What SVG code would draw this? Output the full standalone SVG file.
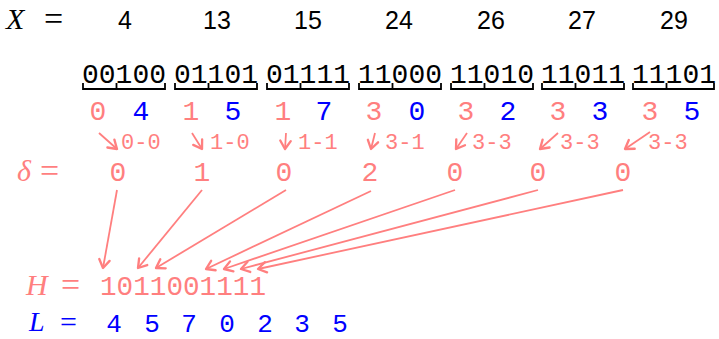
<svg xmlns="http://www.w3.org/2000/svg" width="719" height="339" viewBox="0 0 719 339">
<defs>
<marker id="ah" markerUnits="userSpaceOnUse" markerWidth="14" markerHeight="14" refX="10" refY="6" orient="auto" viewBox="0 0 12 12">
<path d="M3,1.5 L10,6 L3,10.5" fill="none" stroke="#ff7f7f" stroke-width="2" stroke-linecap="round" stroke-linejoin="round"/>
</marker>
</defs>
<style>
.math{font-family:"Liberation Serif","DejaVu Serif",serif;font-style:italic;font-size:30px}
.eq{font-family:"Liberation Serif","DejaVu Serif",serif;font-size:34px}
.num{font-family:"Liberation Sans","DejaVu Sans",sans-serif;font-size:25px;fill:#000;text-anchor:middle}
.bin{font-family:"Liberation Mono","DejaVu Sans Mono",monospace;font-size:28px;fill:#000}
.tt{font-family:"Liberation Mono","DejaVu Sans Mono",monospace;font-size:28px;text-anchor:middle}
.lt{font-family:"Liberation Mono","DejaVu Sans Mono",monospace;font-size:26px;text-anchor:middle}
.lab{font-family:"Liberation Mono","DejaVu Sans Mono",monospace;font-size:22px;fill:#ff7f7f}
.red{fill:#ff7f7f}
.blue{fill:#0000ff}
.brace{fill:none;stroke:#000;stroke-width:1.8}
.conn{fill:none;stroke:#ff7f7f;stroke-width:1.8;marker-end:url(#ah)}
</style>
<g id="xrow">
<text class="math" x="6" y="29">X</text><text class="eq" x="44" y="30">=</text>
<text class="num" x="125" y="29">4</text>
<text class="num" x="217" y="29">13</text>
<text class="num" x="308" y="29">15</text>
<text class="num" x="399" y="29">24</text>
<text class="num" x="491" y="29">26</text>
<text class="num" x="582" y="29">27</text>
<text class="num" x="674" y="29">29</text>
</g>
<g id="bins">
<text class="bin" x="82" y="83">00100</text>
<text class="bin" x="174" y="83">01101</text>
<text class="bin" x="266" y="83">01111</text>
<text class="bin" x="358" y="83">11000</text>
<text class="bin" x="450" y="83">11010</text>
<text class="bin" x="541" y="83">11011</text>
<text class="bin" x="632" y="83">11101</text>
<path class="brace" d="M83,83 V89 H165 V83 M116.5,89 V83"/>
<path class="brace" d="M175,83 V89 H257 V83 M208.5,89 V83"/>
<path class="brace" d="M267,83 V89 H349 V83 M300.5,89 V83"/>
<path class="brace" d="M359,83 V89 H441 V83 M392.5,89 V83"/>
<path class="brace" d="M451,83 V89 H533 V83 M484.5,89 V83"/>
<path class="brace" d="M542,83 V89 H624 V83 M575.5,89 V83"/>
<path class="brace" d="M633,83 V89 H714 V83 M666.5,89 V83"/>
</g>
<g id="split">
<text class="tt red" x="98" y="120">0</text><text class="tt blue" x="141" y="120">4</text>
<text class="tt red" x="191" y="120">1</text><text class="tt blue" x="233" y="120">5</text>
<text class="tt red" x="283" y="120">1</text><text class="tt blue" x="324" y="120">7</text>
<text class="tt red" x="374" y="120">3</text><text class="tt blue" x="417" y="120">0</text>
<text class="tt red" x="466" y="120">3</text><text class="tt blue" x="508" y="120">2</text>
<text class="tt red" x="558" y="120">3</text><text class="tt blue" x="600" y="120">3</text>
<text class="tt red" x="650" y="120">3</text><text class="tt blue" x="692" y="120">5</text>
</g>
<g id="diffs">
<text class="lab" x="121" y="149">0-0</text>
<text class="lab" x="210" y="149">1-0</text>
<text class="lab" x="298" y="149">1-1</text>
<text class="lab" x="385" y="149">3-1</text>
<text class="lab" x="472" y="149">3-3</text>
<text class="lab" x="560" y="149">3-3</text>
<text class="lab" x="648" y="149">3-3</text>
</g>
<g id="delta">
<text class="math red" x="17" y="181">δ</text><text class="eq red" x="40" y="182">=</text>
<text class="tt red" x="118" y="181">0</text>
<text class="tt red" x="202" y="181">1</text>
<text class="tt red" x="284" y="181">0</text>
<text class="tt red" x="370" y="181">2</text>
<text class="tt red" x="455" y="181">0</text>
<text class="tt red" x="538" y="181">0</text>
<text class="tt red" x="623" y="181">0</text>
</g>
<g id="hrow">
<text class="math red" x="26" y="295">H</text><text class="eq red" x="61" y="296">=</text>
<text class="bin red" x="100" y="295" textLength="166" lengthAdjust="spacingAndGlyphs">1011001111</text>
</g>
<g id="lrow">
<text class="math blue" x="29" y="331" style="font-size:28px">L</text><text class="eq blue" x="60" y="332" style="font-size:30px">=</text>
<text class="lt blue" x="114" y="332">4</text>
<text class="lt blue" x="152" y="332">5</text>
<text class="lt blue" x="189" y="332">7</text>
<text class="lt blue" x="227" y="332">0</text>
<text class="lt blue" x="265" y="332">2</text>
<text class="lt blue" x="302" y="332">3</text>
<text class="lt blue" x="340" y="332">5</text>
</g>
<g id="connectors">
<line class="conn" x1="99" y1="133" x2="117" y2="149"/>
<line class="conn" x1="192" y1="133" x2="202" y2="149"/>
<line class="conn" x1="286" y1="133" x2="285" y2="149"/>
<line class="conn" x1="375" y1="133" x2="371" y2="149"/>
<line class="conn" x1="467" y1="133" x2="456" y2="149"/>
<line class="conn" x1="558" y1="133" x2="540" y2="149"/>
<line class="conn" x1="650" y1="132" x2="625" y2="149"/>
<line class="conn" x1="117" y1="190" x2="103" y2="268"/>
<line class="conn" x1="202" y1="190" x2="138" y2="268"/>
<line class="conn" x1="286" y1="190" x2="156" y2="268"/>
<line class="conn" x1="371" y1="191" x2="206" y2="269"/>
<line class="conn" x1="455" y1="190" x2="224" y2="269"/>
<line class="conn" x1="538" y1="190" x2="241" y2="269"/>
<line class="conn" x1="623" y1="190" x2="258" y2="269"/>
</g>
</svg>
